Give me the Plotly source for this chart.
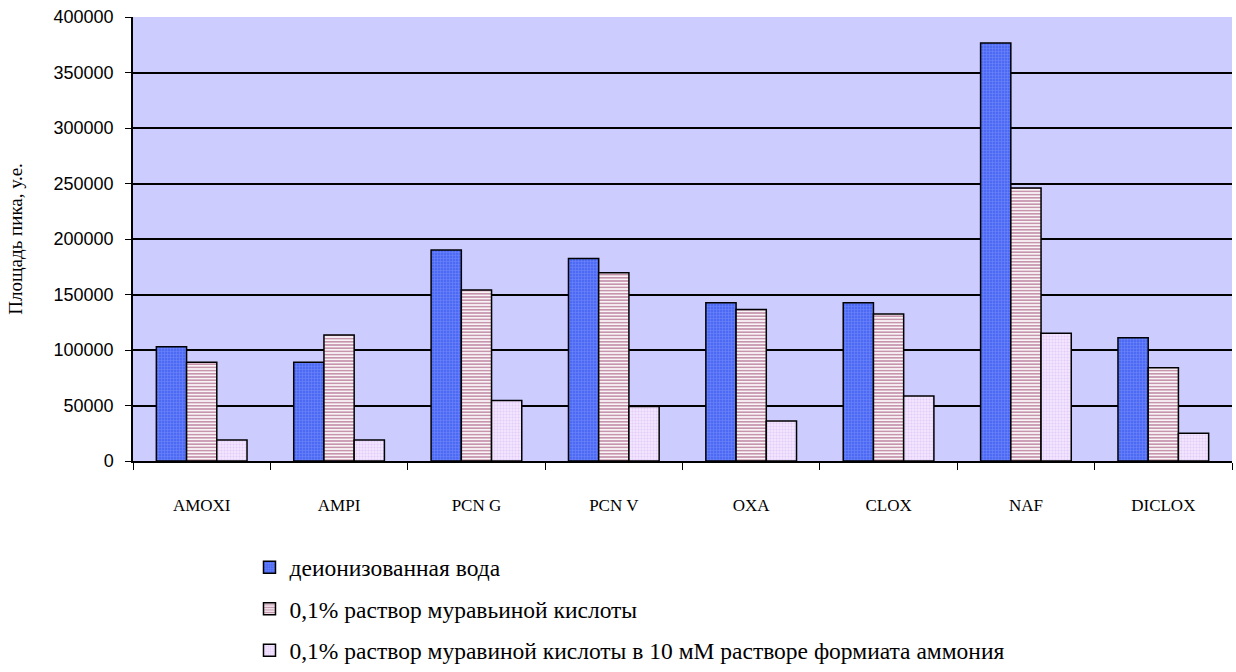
import plotly.graph_objects as go

categories = ["AMOXI", "AMPI", "PCN G", "PCN V", "OXA", "CLOX", "NAF", "DICLOX"]

water = [103000, 89000, 190000, 182500, 142500, 142500, 376500, 111000]
formic = [89000, 113500, 154000, 169500, 136500, 132500, 246000, 84000]
formic_ammonium = [19000, 19000, 54500, 49000, 36000, 58500, 115000, 25000]

series_names = [
    "деионизованная вода",
    "0,1% раствор муравьиной кислоты",
    "0,1% раствор муравиной кислоты в 10 мМ растворе формиата аммония",
]

y_ticks = [0, 50000, 100000, 150000, 200000, 250000, 300000, 350000, 400000]

serif = "Times New Roman"
sans = "Liberation Sans"

styles = [
    dict(color="#4d6af4", pattern=dict(shape="+", fgcolor="#8ea3ff", size=3, solidity=0.35)),
    dict(color="#ffffff", pattern=dict(shape="-", fgcolor="#8e2a5c", size=3.2, solidity=0.55)),
    dict(color="#f3e6ff", pattern=dict(shape=".", fgcolor="#d2b2f2", size=3, solidity=0.4)),
]

fig = go.Figure()
for i, (name, vals) in enumerate(zip(series_names, [water, formic, formic_ammonium])):
    st = styles[i]
    fig.add_trace(go.Bar(
        x=categories,
        y=vals,
        name=name,
        legendgroup=f"g{i}",
        marker=dict(
            color=st["color"],
            pattern=dict(fillmode="overlay", **st["pattern"]),
            line=dict(color="#000000", width=1.5),
        ),
    ))

fig.update_layout(
    width=1236,
    height=672,
    barmode="group",
    bargap=0.34,
    bargroupgap=0,
    plot_bgcolor="#ccccff",
    paper_bgcolor="#ffffff",
    margin=dict(l=133, r=4, t=17, b=211, autoexpand=False),
    showlegend=True,
    legend=dict(
        x=0.106,
        y=-0.19,
        xanchor="left",
        yanchor="top",
        orientation="v",
        traceorder="grouped",
        tracegroupgap=8,
        font=dict(family=serif, size=23.5, color="#000000"),
        bgcolor="rgba(0,0,0,0)",
        itemwidth=30,
    ),
    xaxis=dict(
        automargin=False,
        tickson="boundaries",
        ticks="outside",
        ticklen=7,
        tickcolor="#000000",
        tickwidth=1,
        showline=True,
        linecolor="#000000",
        linewidth=2,
        showgrid=False,
        tickfont=dict(family=serif, size=17, color="#000000"),
        ticklabelstandoff=28,
    ),
    yaxis=dict(
        automargin=False,
        range=[0, 400000],
        tickvals=y_ticks,
        ticktext=[str(v) for v in y_ticks],
        ticks="outside",
        ticklen=6,
        tickcolor="#000000",
        showline=True,
        linecolor="#000000",
        linewidth=1.5,
        showgrid=True,
        gridcolor="#000000",
        gridwidth=1.5,
        zeroline=False,
        tickfont=dict(family=sans, size=18, color="#000000"),
        ticklabelstandoff=8,
        title=dict(
            text="Площадь пика, у.е.",
            font=dict(family=serif, size=19, color="#000000"),
            standoff=26,
        ),
    ),
)

fig.write_html("out.html")
